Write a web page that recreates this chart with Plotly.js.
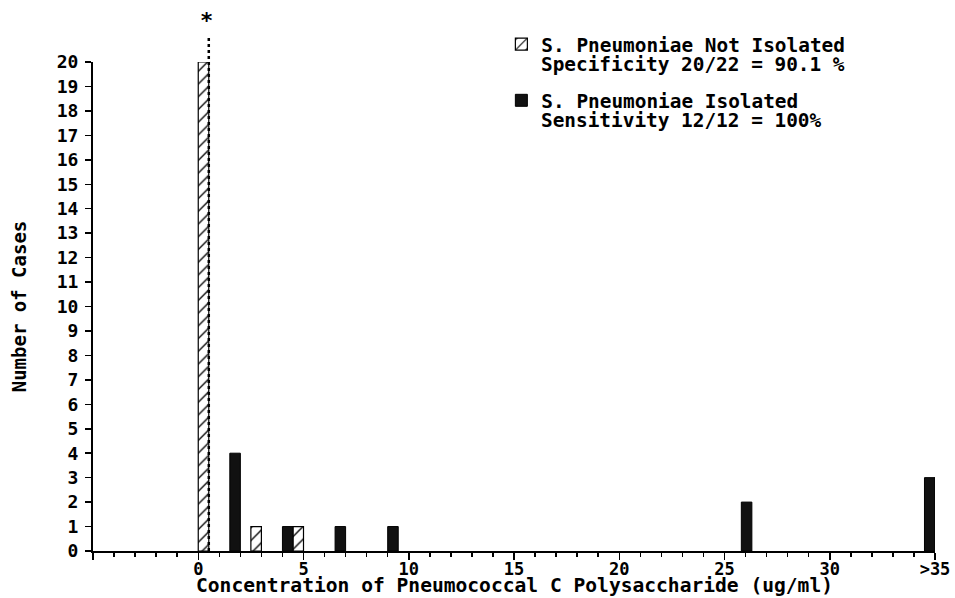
<!DOCTYPE html>
<html>
<head>
<meta charset="utf-8">
<script src="https://cdn.plot.ly/plotly-3.0.1.min.js"></script>
<style>html,body{margin:0;padding:0;background:#fff;}</style>
</head>
<body>
<div id="chart" style="width:955px;height:598px;"></div>
<script>
// Bar left edges (ug/ml) and counts
var notIsolatedX = [0, 2.5, 4.5];
var notIsolatedY = [20, 1, 1];
var isolatedX = [1.5, 4, 6.5, 9, 25.8, 34.5];
var isolatedY = [4, 1, 1, 1, 2, 3];
var barWidth = 0.5;

var notIsolatedName = 'S. Pneumoniae Not Isolated';
var notIsolatedStat = 'Specificity 20/22 = 90.1 %';
var isolatedName = 'S. Pneumoniae Isolated';
var isolatedStat = 'Sensitivity 12/12 = 100%';
var xTitle = 'Concentration of Pneumococcal C Polysaccharide (ug/ml)';
var yTitle = 'Number of Cases';

var xTickVals = [-5, 0, 5, 10, 15, 20, 25, 30, 35];
var xTickText = ['', '0', '5', '10', '15', '20', '25', '30', '>35'];
var yTickVals = [0,1,2,3,4,5,6,7,8,9,10,11,12,13,14,15,16,17,18,19,20];

var FONT = 'DejaVu Sans Mono, Liberation Mono, monospace';
function f(size) { return {family: FONT, size: size, color: '#000', weight: 'bold'}; }

var traces = [
  {
    type: 'bar', name: notIsolatedName, legendgroup: 'a',
    x: notIsolatedX, y: notIsolatedY,
    width: barWidth, offset: 0,
    marker: {
      color: '#ffffff',
      line: {color: '#000', width: 1.2},
      pattern: {shape: '/', fgcolor: '#000', bgcolor: '#fff', size: 9, solidity: 0.15}
    },
    hoverinfo: 'skip'
  },
  {
    type: 'bar', name: isolatedName, legendgroup: 'b',
    x: isolatedX, y: isolatedY,
    width: barWidth, offset: 0,
    marker: {color: '#111', line: {color: '#000', width: 1}},
    hoverinfo: 'skip'
  }
];

// the truncated first bar: dotted extension and asterisk
var cutX = notIsolatedX[0] + barWidth;

var layout = {
  width: 955, height: 598,
  margin: {l: 93, r: 20, t: 62, b: 47},
  paper_bgcolor: '#fff', plot_bgcolor: '#fff',
  barmode: 'overlay',
  font: f(18),
  showlegend: true,
  legend: {
    x: 0.485, y: 1.0757, xanchor: 'left', yanchor: 'top',
    traceorder: 'grouped', tracegroupgap: 28,
    bgcolor: 'rgba(0,0,0,0)',
    font: f(19.4), itemwidth: 30
  },
  xaxis: {
    range: [-5, 35],
    showgrid: false, zeroline: false,
    showline: true, linecolor: '#000', linewidth: 2,
    tickmode: 'array', tickvals: xTickVals, ticktext: xTickText,
    ticks: 'outside', ticklen: 7, tickwidth: 1.5, tickcolor: '#000',
    minor: {tickmode: 'linear', tick0: 0, dtick: 1, ticks: 'outside', ticklen: 4, tickwidth: 1.5, tickcolor: '#000', showgrid: false},
    ticklabelstandoff: -5,
    tickfont: f(17)
  },
  yaxis: {
    range: [0, 20],
    showgrid: false, zeroline: false,
    showline: true, linecolor: '#000', linewidth: 2,
    tickmode: 'array', tickvals: yTickVals,
    ticks: 'outside', ticklen: 6, tickwidth: 1.5, tickcolor: '#000',
    ticklabelstandoff: 3,
    tickfont: f(18),
    title: {text: yTitle, standoff: 25, font: f(19)}
  },
  shapes: [
    {type: 'line', xref: 'x', yref: 'paper', x0: cutX, x1: cutX, y0: 0, y1: 1.052,
     line: {color: '#000', width: 2.5, dash: 'dot'}}
  ],
  annotations: [
    {xref: 'x', yref: 'paper', x: cutX - 0.1, y: 1.055, yanchor: 'bottom', showarrow: false,
     text: '*', font: f(22)},
    {xref: 'paper', yref: 'paper', x: 0.530, y: 0.9953, xanchor: 'left', yanchor: 'middle',
     showarrow: false, text: notIsolatedStat, font: f(19.4)},
    {xref: 'paper', yref: 'paper', x: 0.530, y: 0.8808, xanchor: 'left', yanchor: 'middle',
     showarrow: false, text: isolatedStat, font: f(19.4)},
    {xref: 'paper', yref: 'paper', x: 0.5, y: 0, xanchor: 'center', yanchor: 'bottom', yshift: -47,
     borderpad: 0, showarrow: false, text: xTitle, font: f(19.6)}
  ]
};

Plotly.newPlot('chart', traces, layout, {displayModeBar: false, staticPlot: true});
</script>
</body>
</html>
